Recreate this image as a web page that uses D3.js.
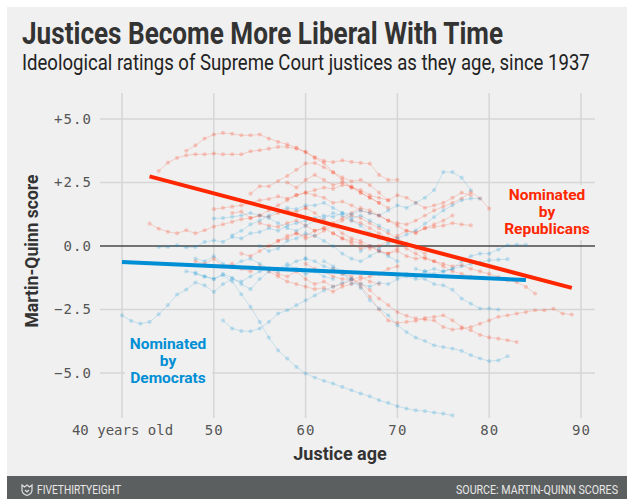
<!DOCTYPE html>
<html>
<head>
<meta charset="utf-8">
<script src="https://cdn.jsdelivr.net/npm/d3@7"></script>
<style>
  html, body { margin: 0; padding: 0; background: #ffffff; }
  svg { display: block; }
</style>
</head>
<body>
<svg id="chart" width="627" height="499"></svg>
<script>
// ---- Axis ticks -------------------------------------------------------
const xTicks = [40, 50, 60, 70, 80, 90];
const xTickLabels = ["40 years old", "50", "60", "70", "80", "90"];
const yTicks = [5, 2.5, 0, -2.5, -5];
const yTickLabels = ["+5.0", "+2.5", "0.0", "\u22122.5", "\u22125.0"];

// ---- Justices nominated by Republicans: first age on the court, then yearly scores
const repStartAges = [47, 44, 43, 50, 54, 52, 55, 57, 48, 60, 63, 63, 58, 60, 53, 56, 65];
const repScores = [
  [3.75, 3.96, 4.23, 4.39, 4.45, 4.42, 4.36, 4.36, 4.39, 4.23, 4.1, 4.0, 3.87, 3.7, 3.5, 3.35, 3.3, 3.37, 3.31, 3.27, 3.24, 2.8, 2.6, 2.6],
  [2.95, 3.28, 3.47, 3.57, 3.61, 3.61, 3.64, 3.61, 3.61, 3.61, 3.73, 3.77, 3.83, 3.9, 3.9, 3.83, 3.7, 3.46, 3.27, 2.9, 2.6, 2.3, 2.1, 1.9, 1.7, 1.5],
  [0.88, 0.68, 0.56, 0.5, 0.62, 0.5, 0.62, 0.76, 0.85, 0.95, 1.05, 1.1, 1.2, 1.15, 1.3, 1.4, 1.35, 1.5],
  [1.45, 1.5, 1.55, 1.6, 1.7, 1.8, 1.85, 1.95, 1.87, 2.0, 2.1, 2.2, 2.3, 2.25, 2.4, 2.35, 2.1, 1.9, 1.7],
  [2.06, 2.35, 2.35, 2.56, 2.76, 3.0, 3.25, 3.27, 3.1, 2.9, 2.7, 2.55, 2.6, 2.4, 2.1, 1.8],
  [1.3, 1.35, 1.1, 1.2, 1.4, 1.6, 1.8, 2.0, 2.1, 2.0, 1.9, 1.7, 1.75, 1.6, 1.4, 1.3, 1.2, 1.0, 0.9, 0.85, 1.0, 1.2, 1.4, 1.55, 1.7, 1.87, 2.13, 1.87, 1.47],
  [0.9, 0.8, 0.75, 0.9, 1.0, 0.8, 0.6, 0.7, 0.9, 1.1, 1.3, 1.5, 1.4, 1.2, 1.0, 0.8, 0.6, 0.55, 0.7, 0.85, 1.0, 1.2],
  [0.2, 0.3, 0.5, 0.4, 0.6, 0.7, 0.5, 0.3, 0.2, 0.1, -0.1, 0.0, 0.2, 0.4, 0.6, 0.5, 0.7, 0.75, 0.8, 0.9, 0.85, 0.81],
  [-0.6, -0.7, -0.5, -0.8, -0.7, -0.9, -1.0, -0.8, -0.9, -1.1, -1.2, -1.0, -1.3, -1.5, -1.4, -1.6, -1.5, -1.35, -1.2, -1.4, -1.5],
  [-0.7, -0.9, -1.0, -1.2, -1.3, -1.3, -1.48, -1.74, -2.07, -2.33, -2.6, -2.75, -2.85, -2.9, -2.93, -3.19, -3.29, -3.25, -3.19, -3.06, -2.93, -2.79, -2.73, -2.66, -2.6, -2.53, -2.53, -2.47, -2.66, -2.7],
  [-0.9, -1.1, -1.2, -1.6, -2.0, -2.5, -2.93, -3.03, -2.99, -2.95, -2.83, -2.79, -2.73, -2.93, -3.19, -3.32, -3.5, -3.6, -3.65, -3.71, -3.78],
  [0.5, 0.3, 0.1, -0.1, 0.0, -0.2, -0.3, -0.2, -0.4, -0.5, -0.45, -0.6, -0.7, -0.8, -0.75, -0.9, -1.0, -1.1, -1.22, -1.35, -1.42, -1.61, -1.87],
  [2.5, 2.3, 2.6, 2.8, 2.6, 2.4, 2.5, 2.3, 2.2, 2.0, 1.9, 1.8, 2.0, 1.9, 1.7, 1.5, 1.6, 1.7, 1.9, 2.1, 2.0],
  [1.5, 1.3, 1.0, 0.8, 0.5, 0.3, 0.2, 0.0, -0.2, -0.3, -0.1],
  [-0.3, -0.4, -0.2, 0.0, 0.2, 0.4, 0.5, 0.3, 0.4, 0.6, 0.8, 1.0, 1.2, 1.1, 0.9, 0.7, 0.5, 0.3, 0.1, -0.1, -0.3],
  [-1.0, -1.2, -1.4, -1.5, -1.6, -1.7, -1.65, -1.8, -1.6, -1.5, -1.3, -1.2, -1.1, -0.9, -0.8],
  [1.0, 0.9, 0.7, 0.5, 0.3, 0.1, -0.1, -0.3, -0.5, -0.6, -0.8, -1.0, -1.1, -1.2]
];

// ---- Justices nominated by Democrats
const demStartAges = [40, 44, 48, 51, 60, 66, 72, 70, 50, 52, 47, 62, 55, 48];
const demScores = [
  [-2.73, -2.95, -3.06, -2.99, -2.69, -2.33, -1.91, -1.72, -1.44, -1.55, -1.81, -1.5, -1.3, -1.4, -1.2, -1.0, -0.9],
  [-0.04, -0.04, 0.03, -0.06, -0.04, 0.16, 0.22, 0.16, 0.35, 0.3, 0.5, 0.55, 0.7, 0.6, 0.8, 0.9, 1.0, 1.1, 1.2, 1.15, 1.3, 1.25, 1.4, 1.3, 1.2, 1.4, 1.6, 1.5, 1.7, 1.9, 2.2, 2.91, 2.91, 2.69, 2.19],
  [-1.1, -1.2, -1.3, -1.15, -1.4, -1.9, -2.4, -2.99, -3.61, -4.11, -4.43, -4.76, -5.02, -5.18, -5.31, -5.42, -5.55, -5.68, -5.81, -5.92, -6.07, -6.18, -6.31, -6.4, -6.47, -6.5, -6.56, -6.6, -6.67],
  [-2.93, -3.25, -3.35, -3.36, -3.25, -2.99, -2.66, -2.53, -2.33, -2.14, -1.95, -1.75, -1.6, -1.45, -1.3],
  [-0.5, -0.6, -0.8, -0.9, -1.1, -1.3, -1.65, -2.14, -2.46, -2.73, -3.12, -3.39, -3.61, -3.74, -3.91, -3.98, -4.04, -4.13, -4.3, -4.43, -4.53, -4.5, -4.34],
  [-0.2, 0.0, -0.1, 0.1, 0.3, 0.45, 0.62, 0.88, 1.14, 1.4, 1.6, 1.8, 1.87, 1.87],
  [-0.9, -1.0, -1.1, -1.0, -0.9, -0.6, -0.4, -0.3, -0.3, -0.14, 0.03, 0.05, 0.05],
  [-1.2, -1.1, -1.2, -1.0, -0.9, -1.0, -0.9, -0.8, -0.7, -0.65, -0.56, -0.54, -0.52],
  [1.08, 1.1, 1.15, 1.2, 1.3, 1.2, 1.1, 0.9, 0.7, 0.6, 0.8, 1.0, 1.1, 1.3, 1.2, 1.0, 0.8, 0.5, 0.3],
  [0.42, 0.6, 0.85, 1.0, 1.2, 1.4, 1.5, 1.45, 1.6, 1.6, 1.7, 1.5, 1.3, 1.1, 1.2, 1.0, 0.8, 0.6],
  [-1.0, -1.05, -1.2, -1.3, -1.1, -1.25, -1.5, -1.7, -1.3, -1.0, -0.9, -0.7, -0.9, -1.1, -1.0, -1.2, -1.3],
  [-0.6, -0.8, -1.0, -1.48, -1.5, -1.6, -1.45, -1.5, -1.3, -1.2, -1.3, -1.3, -1.5, -1.55, -1.72, -2.07, -2.27, -2.46, -2.46, -2.5],
  [0.0, -0.2, -0.1, 0.2, 0.3, 0.5, 0.4, 0.2, 0.0, -0.3, -0.5, -0.6, -0.4, -0.2, -0.4, -0.6],
  [-0.5, -0.6, -0.4, -0.7, -0.8, -0.6, -0.5, -0.7, -0.9, -1.0, -0.8, -0.6, -0.5]
];

// ---- Fitted trend lines (endpoints)
const repTrendAges = [43, 89];
const repTrendScores = [2.74, -1.65];
const demTrendAges = [40, 84];
const demTrendScores = [-0.63, -1.34];

// ---- Colours
const RED = "#ff2700";
const BLUE = "#008fd5";

// ---- Build chart ------------------------------------------------------
const svg = d3.select("#chart");
const W = 627, H = 499;
const sans = "Roboto, 'Noto Sans', sans-serif";

const x = d3.scaleLinear().domain([40, 90]).range([122, 581]);
const y = d3.scaleLinear().domain([-5, 5]).range([373, 119]);

// panel backgrounds
svg.append("rect").attr("x", 7).attr("y", 7).attr("width", W - 7).attr("height", 469).attr("fill", "#f0f0f0");
svg.append("rect").attr("x", 7).attr("y", 476).attr("width", W - 7).attr("height", H - 476).attr("fill", "#5c5f60");

// text fitted to a given width, optionally stretched vertically about its baseline
function fittedText(px, py, width, size, weight, fill, str, stretchY, anchor) {
  const g = svg.append("g").attr("transform", `translate(${px},${py}) scale(1,${stretchY})`);
  const t = g.append("text")
    .attr("x", 0).attr("y", 0)
    .attr("text-anchor", anchor || "start")
    .attr("font-family", sans).attr("font-weight", weight)
    .attr("font-size", size).attr("fill", fill)
    .text(str);
  const len = t.node().getComputedTextLength();
  t.attr("font-size", (size * width / len).toFixed(2));
  return t;
}
fittedText(22, 44, 481, 24, 700, "#333333", "Justices Become More Liberal With Time", 1.18);
fittedText(22, 70, 567, 18, 400, "#222222", "Ideological ratings of Supreme Court justices as they age, since 1937", 1.15);

// gridlines
const grid = svg.append("g");
grid.selectAll("line.v").data(xTicks).join("line")
  .attr("x1", d => x(d)).attr("x2", d => x(d))
  .attr("y1", 93).attr("y2", 418)
  .attr("stroke", "#d6d6d6").attr("stroke-width", 1.5);
grid.selectAll("line.h").data(yTicks.filter(d => d !== 0)).join("line")
  .attr("x1", 100).attr("x2", 595)
  .attr("y1", d => y(d)).attr("y2", d => y(d))
  .attr("stroke", "#d6d6d6").attr("stroke-width", 1.5);
svg.append("line")
  .attr("x1", 100).attr("x2", 595).attr("y1", y(0)).attr("y2", y(0))
  .attr("stroke", "#4a4a4a").attr("stroke-width", 1.5);

// axes (labels only)
const monoFont = "'DejaVu Sans Mono', 'Liberation Mono', monospace";
const yAxis = svg.append("g").attr("transform", "translate(100,0)")
  .call(d3.axisLeft(y).tickValues(yTicks).tickFormat((d, i) => yTickLabels[i]).tickSize(0).tickPadding(8));
const xAxis = svg.append("g").attr("transform", "translate(0,418)")
  .call(d3.axisBottom(x).tickValues(xTicks).tickFormat((d, i) => xTickLabels[i]).tickSize(0).tickPadding(7));
[yAxis, xAxis].forEach(a => {
  a.select(".domain").remove();
  a.selectAll("text")
    .attr("font-family", monoFont).attr("font-size", 14).attr("fill", "#555555")
    .style("letter-spacing", d => (d === 40 && a === xAxis) ? "0px" : "1.1px");
});

// axis titles
svg.append("text")
  .attr("transform", "translate(38,251) rotate(-90)")
  .attr("text-anchor", "middle")
  .attr("font-family", sans)
  .attr("font-weight", 700).attr("font-size", 17.5).attr("fill", "#333333")
  .text("Martin-Quinn score");
svg.append("text")
  .attr("x", 340).attr("y", 460)
  .attr("text-anchor", "middle")
  .attr("font-family", sans)
  .attr("font-weight", 700).attr("font-size", 18).attr("fill", "#333333")
  .text("Justice age");

// individual justices
const line = d3.line().x(d => x(d.age)).y(d => y(d.score));
function drawJustices(starts, scores, color) {
  const series = scores.map((vals, i) => vals.map((v, k) => ({ age: starts[i] + k, score: v })));
  const g = svg.append("g");
  g.selectAll("path").data(series).join("path")
    .attr("d", line)
    .attr("fill", "none").attr("stroke", color)
    .attr("stroke-opacity", 0.18).attr("stroke-width", 1);
  g.selectAll("g.pts").data(series).join("g")
    .selectAll("circle").data(d => d).join("circle")
    .attr("cx", d => x(d.age)).attr("cy", d => y(d.score))
    .attr("r", 2.1).attr("fill", color).attr("fill-opacity", 0.2);
}
drawJustices(repStartAges, repScores, RED);
drawJustices(demStartAges, demScores, BLUE);

// trend lines
function drawTrend(ages, scores, color) {
  svg.append("path")
    .datum(ages.map((a, i) => ({ age: a, score: scores[i] })))
    .attr("d", line)
    .attr("fill", "none").attr("stroke", color).attr("stroke-width", 4);
}
drawTrend(demTrendAges, demTrendScores, BLUE);
drawTrend(repTrendAges, repTrendScores, RED);

// party labels, one text per line on a panel-coloured backing
function partyLabel(cx, baseline, lines, color, box) {
  svg.append("rect").attr("x", box[0]).attr("y", box[1]).attr("width", box[2]).attr("height", box[3]).attr("fill", "#f0f0f0");
  lines.forEach((s, i) => svg.append("text")
    .attr("x", cx).attr("y", baseline + i * 17)
    .attr("text-anchor", "middle")
    .attr("font-family", sans)
    .attr("font-weight", 700).attr("font-size", 15.5).attr("fill", color)
    .text(s));
}
partyLabel(547, 200, ["Nominated", "by", "Republicans"], RED, [501, 185, 93, 55]);
partyLabel(168, 349, ["Nominated", "by", "Democrats"], BLUE, [125, 334, 87, 55]);

// footer
const logo = svg.append("g").attr("transform", "translate(22,485)")
  .attr("fill", "none").attr("stroke", "#e0e0e0").attr("stroke-width", 1.2);
logo.append("path").attr("d", "M0,0 L2.5,2 L5,0 L7.5,2 L10,0 L10,5 Q10,9 5,10.5 Q0,9 0,5 Z");
logo.append("path").attr("d", "M3,5 L5,7 L7,5");
fittedText(37, 494, 84, 11, 400, "#e8e8e8", "FIVETHIRTYEIGHT", 1.25);
fittedText(618, 494, 162, 11, 400, "#e8e8e8", "SOURCE: MARTIN-QUINN SCORES", 1.25, "end");
</script>
</body>
</html>
